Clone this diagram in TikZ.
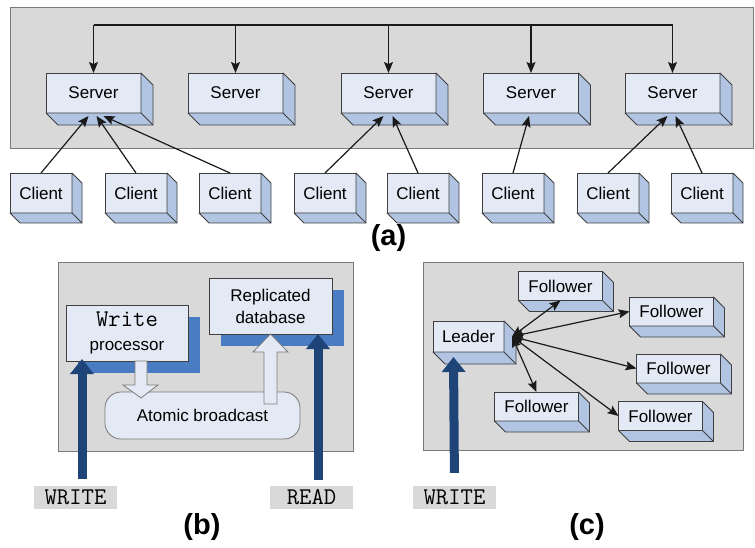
\documentclass[tikz,border=0pt]{standalone}
\usepackage{fontspec}
\setmainfont{Liberation Sans}
\usetikzlibrary{arrows.meta,shadows}
\definecolor{panelfill}{HTML}{D9D9D9}
\definecolor{paneledge}{HTML}{7A7A7A}
\definecolor{boxfront}{HTML}{E4EAF5}
\definecolor{boxside}{HTML}{B1C5E3}
\definecolor{boxedge}{HTML}{3F3F3F}
\definecolor{shadowblue}{HTML}{4A7CC3}
\definecolor{navy}{HTML}{1F4578}
\definecolor{ink}{HTML}{1A1A1A}

% side and bottom faces of a solid box
\newcommand{\solid}[2]{%
  \draw[side] (#1.south west) -- ([shift={(#2,#2)}]#1.south west)
    -- ([shift={(#2,#2)}]#1.south east) -- ([shift={(#2,#2)}]#1.north east)
    -- (#1.north east) -- (#1.south east) -- cycle;
  \draw[side] (#1.south east) -- ([shift={(#2,#2)}]#1.south east);
}

\begin{document}
\begin{tikzpicture}[
  x=1pt, y=-1pt,
  panel/.style    = {draw=paneledge, fill=panelfill, line width=0.8pt},
  box/.style      = {rectangle, draw=boxedge, fill=boxfront, line width=0.8pt,
                     outer sep=0pt, inner sep=0pt, font=\fontsize{17}{20}\selectfont},
  server/.style   = {box, minimum width=95pt, minimum height=40pt},
  client/.style   = {box, minimum width=62pt, minimum height=40pt},
  follower/.style = {box, minimum width=84pt, minimum height=29pt},
  side/.style     = {draw=boxedge, fill=boxside, line width=0.8pt, line join=round},
  flat/.style     = {box, align=center,
                     general shadow={fill=shadowblue, shadow xshift=12pt, shadow yshift=-12pt}},
  hollow/.style   = {draw=paneledge, fill=boxfront, line width=0.8pt, line join=miter},
  flow/.style     = {-{Stealth[length=11pt,width=9pt,inset=2pt]}, draw=ink, line width=1.2pt},
  twoway/.style   = {{Stealth[length=11pt,width=9pt,inset=2pt]}-{Stealth[length=11pt,width=9pt,inset=2pt]},
                     draw=ink, line width=1.2pt},
  upflow/.style   = {-{Triangle[length=15pt,width=23pt]}, draw=navy, line width=9pt},
  cmd/.style      = {rectangle, fill=panelfill, minimum width=83pt, minimum height=23pt,
                     inner sep=0pt, font=\ttfamily\fontsize{24}{24}\selectfont},
  tag/.style      = {font=\bfseries\fontsize{29}{30}\selectfont},
]
\useasboundingbox (0,0) rectangle (755,548);

% (a)
\draw[panel] (10,7) rectangle (753.5,148);
\node[server] (s1) at (93.5,93)  {Server};
\node[server] (s2) at (235.5,93) {Server};
\node[server] (s3) at (388.5,93) {Server};
\node[server] (s4) at (531,93)   {Server};
\node[server] (s5) at (672.5,93) {Server};
\foreach \n in {s1,s2,s3,s4,s5} {\solid{\n}{12}}

\node[client] (c1) at (41,193)  {Client};
\node[client] (c2) at (136,193) {Client};
\node[client] (c3) at (230,193) {Client};
\node[client] (c4) at (325,193) {Client};
\node[client] (c5) at (418,193) {Client};
\node[client] (c6) at (513,193) {Client};
\node[client] (c7) at (608,193) {Client};
\node[client] (c8) at (702,193) {Client};
\foreach \n in {c1,c2,c3,c4,c5,c6,c7,c8} {\solid{\n}{10}}

\coordinate (bus) at (93,25);
\draw[draw=ink, line width=1.2pt] (s1.north |- bus) -- (s5.north |- bus);
\foreach \n in {s1,s2,s3,s4,s5} {\draw[flow] (\n.north |- bus) -- (\n.north);}

\draw[flow] (c1.north) -- ([shift={(-5,3)}]s1.south);
\draw[flow] (c2.north) -- ([shift={(3,3)}]s1.south);
\draw[flow] (c3.north) -- ([shift={(10,3)}]s1.south);
\draw[flow] (c4.north) -- ([shift={(-5,3)}]s3.south);
\draw[flow] (c5.north) -- ([shift={(4,3)}]s3.south);
\draw[flow] (c6.north) -- ([shift={(-2,3)}]s4.south);
\draw[flow] (c7.north) -- ([shift={(-5,3)}]s5.south);
\draw[flow] (c8.north) -- ([shift={(3,3)}]s5.south);

\node[tag] (ta) at (388.5,238) {(a)};

% (b)
\draw[panel] (58,262) rectangle (353,451);
\node[flat, minimum width=122pt, minimum height=56pt, font=\fontsize{17}{24}\selectfont]
  (wp) at (127,333) {{\ttfamily\fontsize{24}{24}\selectfont Write}\\processor};
\node[flat, minimum width=123pt, minimum height=56pt, font=\fontsize{17}{22}\selectfont]
  (db) at (270.5,306) {Replicated\\database};
\node[box, draw=paneledge, rounded corners=16pt, minimum width=195pt, minimum height=47pt]
  (ab) at (202.5,415.5) {Atomic broadcast};

\draw[hollow] ([shift={(20,0)}]wp.south) -- ++(0,24) -- ++(11,0) -- ++(-17,13)
  -- ++(-18,-13) -- ++(12,0) -- ++(0,-24) -- cycle;
\draw[hollow] (db.south) -- ++(17.5,18) -- ++(-11,0) -- ++(0,52)
  -- ++(-13,0) -- ++(0,-52) -- ++(-11,0) -- cycle;

\node[cmd] (wb) at (75.5,497.5)  {WRITE};
\node[cmd] (rd) at (311.5,497.5) {READ};
\draw[upflow, shorten <=7pt] ([xshift=6.5]wb.north) -- ([shift={(-45,-2)}]wp.south);
\draw[upflow, shorten <=6pt] ([xshift=6.5]rd.north) -- ([shift={(47.5,0)}]db.south);

\node[tag] (tb) at (202,527) {(b)};

% (c)
\draw[panel] (423,262) rectangle (743,450);
\node[box, minimum width=71pt, minimum height=31pt] (ld) at (468.5,336.5) {Leader};
\node[follower] (f1) at (560.5,286)   {Follower};
\node[follower] (f2) at (671.5,311.5) {Follower};
\node[follower] (f3) at (678.5,368.5) {Follower};
\node[follower] (f4) at (536.5,406.5) {Follower};
\node[follower] (f5) at (660.5,416)   {Follower};
\solid{ld}{12}
\foreach \n in {f1,f2,f3,f4,f5} {\solid{\n}{11}}

\coordinate (hub) at ([shift={(8,0)}]ld.east);
\draw[twoway] (hub) -- (f1.south);
\draw[twoway] (hub) -- (f2.west);
\draw[twoway] (hub) -- (f3.west);
\draw[twoway] (hub) -- (f4.north);
\draw[twoway] (hub) -- (f5.west);

\node[cmd] (wc) at (454.5,497.5) {WRITE};
\draw[upflow, shorten <=13pt] (wc.north) -- ([shift={(-15,5)}]ld.south);

\node[tag] (tc) at (587,527) {(c)};
\end{tikzpicture}
\end{document}
